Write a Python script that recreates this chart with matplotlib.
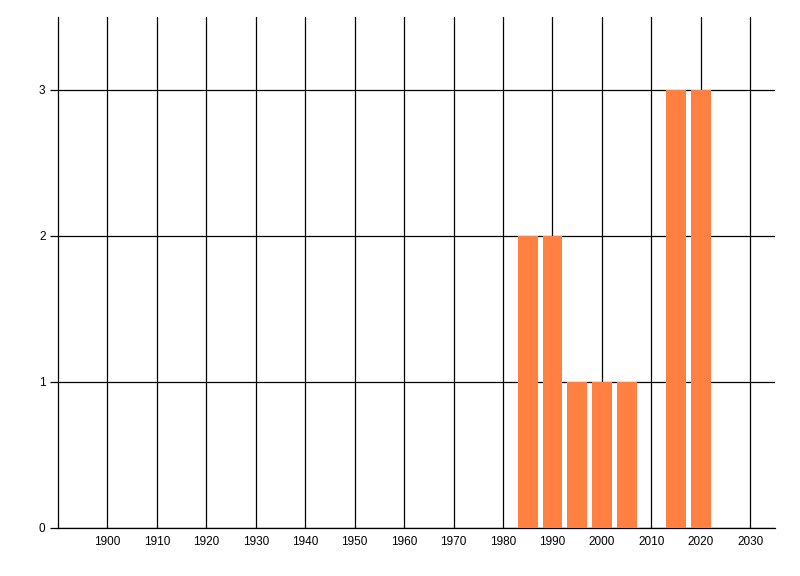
import matplotlib
matplotlib.use('Agg')
import matplotlib.pyplot as plt

plt.rcParams['font.family'] = ['Liberation Sans', 'DejaVu Sans']

# data
years = [1985, 1990, 1995, 2000, 2005, 2015, 2020]
counts = [2, 2, 1, 1, 1, 3, 3]
xticks = list(range(1900, 2031, 10))
yticks = [0, 1, 2, 3]

fig = plt.figure(figsize=(8, 5.76), dpi=100)
ax = fig.add_axes([58/800, 48/576, (775-58)/800, (528-17)/576])

ax.bar(years, counts, width=4, color='#FF8040', zorder=3)

ax.set_xlim(1890, 2035)
ax.set_ylim(0, 3.5)
ax.set_xticks(xticks)
ax.set_yticks(yticks)
ax.grid(True, color='black', linewidth=0.9, zorder=1)
ax.set_axisbelow(True)

for s in ['top', 'right']:
    ax.spines[s].set_visible(False)
for s in ['left', 'bottom']:
    ax.spines[s].set_linewidth(0.9)

ax.tick_params(axis='x', length=0, labelsize=8.5, pad=6)
ax.tick_params(axis='y', length=6, width=0.9, labelsize=8.5, pad=3)

fig.savefig('out.png', dpi=100)
